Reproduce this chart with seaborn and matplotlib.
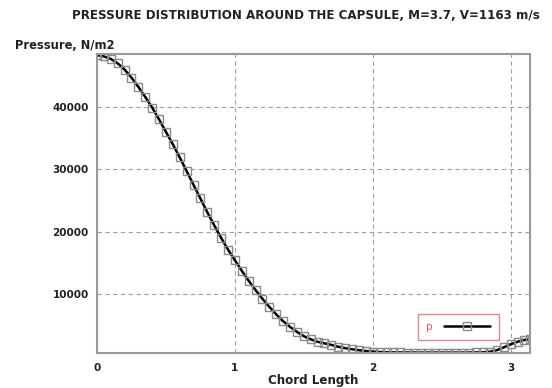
import numpy as np
import pandas as pd
import matplotlib
matplotlib.use("Agg")
import matplotlib.pyplot as plt
import seaborn as sns

# chord length positions and pressure values (N/m2)
chord = [0.00, 0.05, 0.10, 0.15, 0.20, 0.25, 0.30, 0.35, 0.40, 0.45,
         0.50, 0.55, 0.60, 0.65, 0.70, 0.75, 0.80, 0.85, 0.90, 0.95,
         1.00, 1.05, 1.10, 1.15, 1.20, 1.25, 1.30, 1.35, 1.40, 1.45,
         1.50, 1.55, 1.60, 1.65, 1.70, 1.75, 1.80, 1.85, 1.90, 1.95,
         2.00, 2.05, 2.10, 2.15, 2.20, 2.25, 2.30, 2.35, 2.40, 2.45,
         2.50, 2.55, 2.60, 2.65, 2.70, 2.75, 2.80, 2.85, 2.90, 2.95,
         3.00, 3.05, 3.10, 3.14]
pressure = [48300, 48100, 47700, 47000, 46000, 44700, 43200, 41600, 39900, 38000,
            36000, 34000, 31900, 29700, 27500, 25300, 23100, 21000, 19000, 17100,
            15400, 13700, 12100, 10600, 9200, 7900, 6700, 5600, 4700, 3900,
            3200, 2700, 2300, 2050, 1800, 1500, 1280, 1100, 950, 820,
            720, 660, 620, 600, 590, 580, 580, 570, 570, 570,
            570, 570, 570, 570, 580, 590, 620, 700, 950, 1400,
            1900, 2300, 2600, 2700]

x_ticks = [0, 1, 2, 3]
y_ticks = [10000, 20000, 30000, 40000]

df = pd.DataFrame({"chord": chord, "pressure": pressure})

sns.set_style("white")
plt.rcParams["font.family"] = ["DejaVu Sans"]

fig = plt.figure(figsize=(5.52, 3.88), dpi=100)
ax = fig.add_axes([0.1757, 0.0902, 0.7843, 0.7708])

sns.lineplot(data=df, x="chord", y="pressure", ax=ax, color="black", linewidth=1.8,
             marker="s", markersize=6, markerfacecolor="none",
             markeredgecolor="#8a8a8a", markeredgewidth=1, label="p")

ax.set_xlim(0, 3.14)
ax.set_ylim(500, 48500)
ax.set_xticks(x_ticks)
ax.set_yticks(y_ticks)
ax.tick_params(axis="both", length=0, labelsize=7.5, colors="#222222")
ax.tick_params(axis="x", pad=7)
ax.tick_params(axis="y", pad=6)
for lab in ax.get_xticklabels() + ax.get_yticklabels():
    lab.set_fontweight("bold")

ax.grid(True, linestyle=(0, (4, 3)), color="#a0a0a0", linewidth=0.8)
for s in ax.spines.values():
    s.set_color("#9a9a9a")
    s.set_linewidth(1.5)

ax.set_xlabel("Chord Length", fontsize=8.6, fontweight="bold", color="#222222", labelpad=1)
ax.set_ylabel("")
fig.text(0.027, 0.884, "Pressure, N/m2", fontsize=8.3, fontweight="bold", color="#222222",
         ha="left", va="center")
fig.text(0.555, 0.961, "PRESSURE DISTRIBUTION AROUND THE CAPSULE, M=3.7, V=1163 m/s",
         fontsize=8.6, fontweight="bold", color="#222222", ha="center", va="center")

leg = ax.legend(loc="lower right", bbox_to_anchor=(0.94, 0.025), fontsize=7.5,
                frameon=True, fancybox=False, handlelength=4.5, borderpad=0.8,
                handletextpad=1.0)
leg.get_frame().set_edgecolor("#d07070")
leg.get_frame().set_linewidth(1)
for t in leg.get_texts():
    t.set_color("#d06060")
# label on the left of the handle like the reference
vp = leg._legend_box.get_children()[1]
for row in vp.get_children():
    for hp in row.get_children():
        hp.get_children().reverse()

fig.savefig("out.png", dpi=100)
